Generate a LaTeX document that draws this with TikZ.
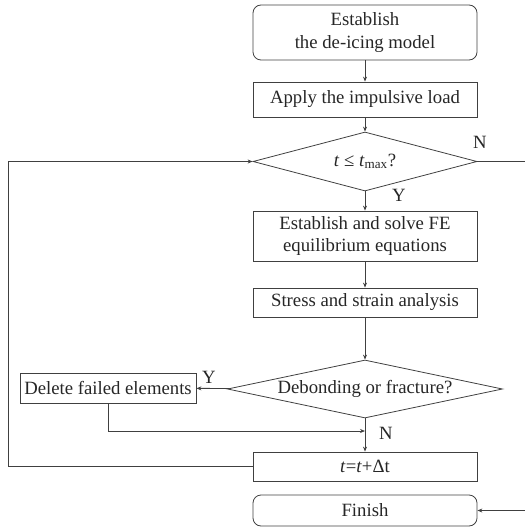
\documentclass[tikz,border=0pt]{standalone}
\usepackage{fontspec}
\setmainfont{Liberation Serif}
\usetikzlibrary{shapes.geometric,arrows.meta}
\begin{document}
\begin{tikzpicture}[x=1bp,y=-1bp,
  every node/.style={font=\fontsize{18.8}{22.5}\selectfont, text=black!85},
  proc/.style={draw=black!75, line width=0.8bp, minimum width=224bp, inner sep=0pt, align=center},
  term/.style={proc, rounded corners=8bp},
  dec/.style={draw=black!75, line width=0.8bp, diamond, inner sep=0pt, align=center},
  lbl/.style={inner sep=0pt},
  conn/.style={draw=black!75, line width=0.8bp, -{Stealth[length=5bp,width=4bp]}},
  plain/.style={draw=black!75, line width=0.8bp}]
\useasboundingbox (0,0) rectangle (525,529);
\node[term, minimum height=55bp] (b1) at (365,32.5) {Establish\\the de-icing model};
\node[proc, minimum height=35bp] (b2) at (365,99.5) {Apply the impulsive load};
\node[dec, shape aspect=3.8, minimum width=224bp, minimum height=59bp] (d1) at (365,161.5) {\textit{t} ≤ \textit{t}\textsubscript{max}?};
\node[proc, minimum height=50bp] (b3) at (365,236) {Establish and solve FE\\equilibrium equations};
\node[proc, minimum height=29bp] (b4) at (365,302.5) {Stress and strain analysis};
\node[dec, shape aspect=4.7, minimum width=275bp, minimum height=58bp] (d2) at (365,389) {Debonding or fracture?};
\node[proc, minimum width=176bp, minimum height=30bp] (del) at (108,388) {Delete failed elements};
\node[proc, minimum height=29bp] (b5) at (365,466.5) {\textit{t}=\textit{t}+Δt};
\node[term, minimum height=31bp] (fin) at (365,510.5) {Finish};
\node[lbl] (n1) at (480,142) {N};
\node[lbl] (y1) at (399,195) {Y};
\node[lbl] (y2) at (209,377) {Y};
\node[lbl] (n2) at (386,433) {N};
\coordinate (rc) at (532,161.5);
\coordinate (lc) at (8,466.5);
\coordinate (j) at (365,431);
\draw[conn] (b1) -- (b2);
\draw[conn] (b2) -- (d1);
\draw[conn] (d1) -- (b3);
\draw[conn] (b3) -- (b4);
\draw[conn] (b4) -- (d2);
\draw[conn] (d2) -- (del);
\draw[conn] (del.south) |- (j);
\draw[conn] (d2) -- (b5);
\draw[conn] (b5.west) -- (lc) |- (d1.west);
\draw[conn] (d1.east) -- (rc) |- (fin.east);
\end{tikzpicture}
\end{document}
